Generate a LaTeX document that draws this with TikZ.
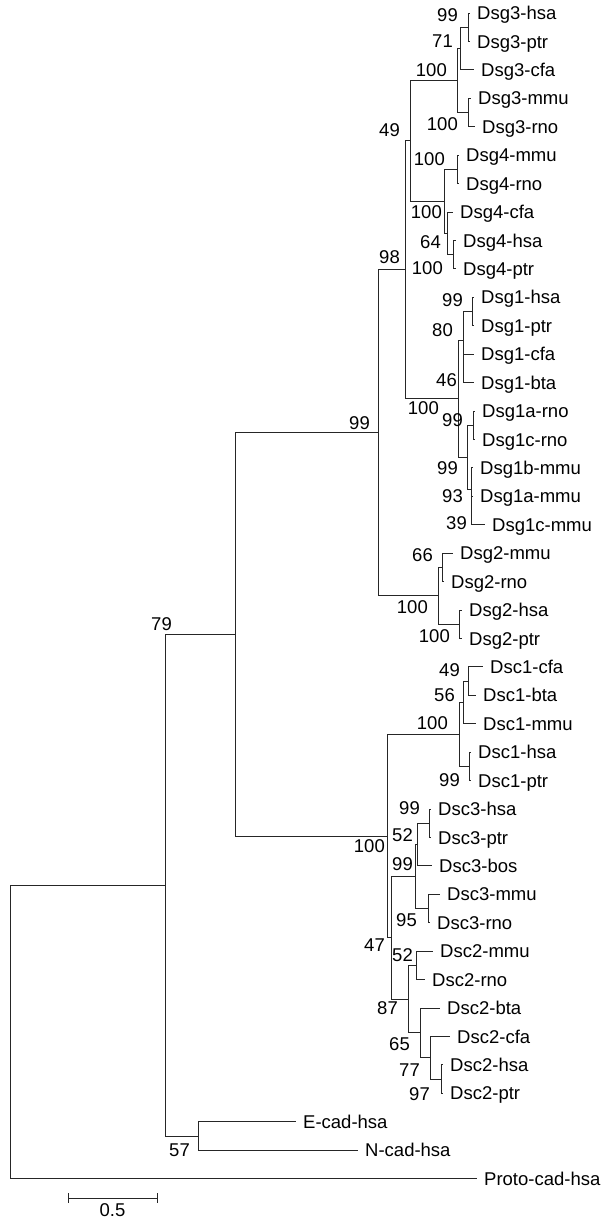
\documentclass[tikz,border=0pt]{standalone}
\usepackage{fontspec}
\setmainfont{Liberation Sans}
\newcommand\lblfont{\fontsize{18.5}{20}\selectfont}
\begin{document}
\begin{tikzpicture}[x=1pt,y=-1pt,
  br/.style={line width=0.9pt, draw=black!85},
  leaf/.style={anchor=base west, inner sep=0pt, xshift=7pt, yshift=-6.6pt, font=\lblfont},
  bs/.style={anchor=base east, inner sep=0pt, yshift=-6.6pt, font=\lblfont}]
\useasboundingbox (0,0) rectangle (606,1219);
\def\C#1#2#3{\coordinate (#1) at (#2,{13+28.43*(#3)});}
\def\Lf#1#2#3#4{\coordinate (#1) at (#2,{13+28.43*(#3)}); \node[leaf] (#1t) at (#1) {#4};}
% internal nodes
\C{r}{10}{35.84}
\C{n165}{165}{30.68}
\C{n235}{235}{21.858}
\C{ncad}{198}{39.5}
\C{ndsg}{378}{14.766}
\C{ndsc}{387}{28.95}
\C{n98}{405}{9.031}
\C{ndsgII}{438}{20.5}
\C{n49}{410}{4.5}
\C{ndsgI}{458}{13.5625}
\C{ndsgIII}{457}{2.375}
\C{ndsgIV}{444}{6.625}
\C{gIIIhp}{468}{0.5}
\C{gIIIsf}{460}{1.25}
\C{gIIImr}{468}{3.5}
\C{gIVmr}{457}{5.5}
\C{gIVc}{447}{7.75}
\C{gIVhp}{453}{8.5}
\C{gIei}{463}{11.5}
\C{gIhp}{472}{10.5}
\C{gIfs}{463}{12.5}
\C{gIrod}{467}{15.625}
\C{gIrno}{473}{14.5}
\C{gImmu}{471}{16.75}
\C{gIac}{471}{17.5}
\C{gIImr}{442}{19.5}
\C{gIIhp}{459}{21.5}
\C{ndscI}{459}{25.375}
\C{cIfs}{463}{24.25}
\C{cIfn}{468}{23.5}
\C{cIhp}{469}{26.5}
\C{n47}{391}{32.53125}
\C{ndscIII}{415}{30.375}
\C{cIIIft}{417}{29.25}
\C{cIIIhp}{429}{28.5}
\C{cIIImr}{428}{31.5}
\C{ndscII}{408}{34.6875}
\C{cIImr}{416}{33.5}
\C{cIIsf}{420}{35.875}
\C{cIIss}{430}{36.75}
\C{cIIhp}{441}{37.5}
% leaves
\Lf{La}{470}{0}{Dsg3-hsa}
\Lf{Lb}{470}{1}{Dsg3-ptr}
\Lf{Lc}{474}{2}{Dsg3-cfa}
\Lf{Ld}{471}{3}{Dsg3-mmu}
\Lf{Le}{475}{4}{Dsg3-rno}
\Lf{Lf}{459}{5}{Dsg4-mmu}
\Lf{Lg}{459}{6}{Dsg4-rno}
\Lf{Lh}{453}{7}{Dsg4-cfa}
\Lf{Li}{456}{8}{Dsg4-hsa}
\Lf{Lj}{456}{9}{Dsg4-ptr}
\Lf{Lk}{474}{10}{Dsg1-hsa}
\Lf{Ll}{474}{11}{Dsg1-ptr}
\Lf{Lm}{474}{12}{Dsg1-cfa}
\Lf{Ln}{474}{13}{Dsg1-bta}
\Lf{Lo}{475}{14}{Dsg1a-rno}
\Lf{Lp}{475}{15}{Dsg1c-rno}
\Lf{Lq}{473}{16}{Dsg1b-mmu}
\Lf{Lr}{473}{17}{Dsg1a-mmu}
\Lf{Ls}{485}{18}{Dsg1c-mmu}
\Lf{Lt}{453}{19}{Dsg2-mmu}
\Lf{Lu}{444}{20}{Dsg2-rno}
\Lf{Lv}{462}{21}{Dsg2-hsa}
\Lf{Lw}{462}{22}{Dsg2-ptr}
\Lf{Lx}{483}{23}{Dsc1-cfa}
\Lf{Ly}{476}{24}{Dsc1-bta}
\Lf{Lz}{476}{25}{Dsc1-mmu}
\Lf{Maa}{471}{26}{Dsc1-hsa}
\Lf{Mab}{471}{27}{Dsc1-ptr}
\Lf{Mac}{431}{28}{Dsc3-hsa}
\Lf{Mad}{431}{29}{Dsc3-ptr}
\Lf{Mae}{432}{30}{Dsc3-bos}
\Lf{Maf}{440}{31}{Dsc3-mmu}
\Lf{Mag}{430}{32}{Dsc3-rno}
\Lf{Mah}{433}{33}{Dsc2-mmu}
\Lf{Mai}{425}{34}{Dsc2-rno}
\Lf{Maj}{440}{35}{Dsc2-bta}
\Lf{Mak}{450}{36}{Dsc2-cfa}
\Lf{Mal}{443}{37}{Dsc2-hsa}
\Lf{Mam}{443}{38}{Dsc2-ptr}
\Lf{Man}{296}{39}{E-cad-hsa}
\Lf{Mao}{358}{40}{N-cad-hsa}
\Lf{Map}{477}{41}{Proto-cad-hsa}
% branches
\foreach \a/\b in {r/n165, r/Map, n165/n235, n165/ncad, ncad/Man, ncad/Mao,
  n235/ndsg, n235/ndsc, ndsg/n98, ndsg/ndsgII, n98/n49, n98/ndsgI,
  n49/ndsgIII, n49/ndsgIV, ndsgIII/gIIIsf, ndsgIII/gIIImr, gIIIsf/gIIIhp, gIIIsf/Lc,
  gIIIhp/La, gIIIhp/Lb, gIIImr/Ld, gIIImr/Le,
  ndsgIV/gIVmr, ndsgIV/gIVc, gIVmr/Lf, gIVmr/Lg, gIVc/Lh, gIVc/gIVhp, gIVhp/Li, gIVhp/Lj,
  ndsgI/gIei, ndsgI/gIrod, gIei/gIhp, gIei/gIfs, gIhp/Lk, gIhp/Ll, gIfs/Lm, gIfs/Ln,
  gIrod/gIrno, gIrod/gImmu, gIrno/Lo, gIrno/Lp, gImmu/Lq, gImmu/gIac, gIac/Lr, gIac/Ls,
  ndsgII/gIImr, ndsgII/gIIhp, gIImr/Lt, gIImr/Lu, gIIhp/Lv, gIIhp/Lw,
  ndsc/ndscI, ndsc/n47, ndscI/cIfs, ndscI/cIhp, cIfs/cIfn, cIfs/Lz, cIfn/Lx, cIfn/Ly,
  cIhp/Maa, cIhp/Mab, n47/ndscIII, n47/ndscII, ndscIII/cIIIft, ndscIII/cIIImr,
  cIIIft/cIIIhp, cIIIft/Mae, cIIIhp/Mac, cIIIhp/Mad, cIIImr/Maf, cIIImr/Mag,
  ndscII/cIImr, ndscII/cIIsf, cIImr/Mah, cIImr/Mai, cIIsf/Maj, cIIsf/cIIss,
  cIIss/Mak, cIIss/cIIhp, cIIhp/Mal, cIIhp/Mam}
  \draw[br] (\a) |- (\b);
% bootstrap values
\node[bs] (b01) at (458,15) {99};
\node[bs] (b02) at (453,41) {71};
\node[bs] (b03) at (447,70) {100};
\node[bs] (b04) at (458,124) {100};
\node[bs] (b05) at (400,130) {49};
\node[bs] (b06) at (445,159) {100};
\node[bs] (b07) at (442,212) {100};
\node[bs] (b08) at (441,242) {64};
\node[bs] (b09) at (443,268) {100};
\node[bs] (b10) at (400,257) {98};
\node[bs] (b11) at (463,300) {99};
\node[bs] (b12) at (453,330) {80};
\node[bs] (b13) at (457,380) {46};
\node[bs] (b14) at (439,408) {100};
\node[bs] (b15) at (463,420) {99};
\node[bs] (b16) at (458,468) {99};
\node[bs] (b17) at (463,496) {93};
\node[bs] (b18) at (467,523) {39};
\node[bs] (b19) at (433,555) {66};
\node[bs] (b20) at (428,607) {100};
\node[bs] (b21) at (450,636) {100};
\node[bs] (b22) at (370,423) {99};
\node[bs] (b23) at (172,624) {79};
\node[bs] (b24) at (460,670) {49};
\node[bs] (b25) at (455,695) {56};
\node[bs] (b26) at (448,723) {100};
\node[bs] (b27) at (460,780) {99};
\node[bs] (b28) at (420,808) {99};
\node[bs] (b29) at (413,835) {52};
\node[bs] (b30) at (413,864) {99};
\node[bs] (b31) at (417,920) {95};
\node[bs] (b32) at (385,846) {100};
\node[bs] (b33) at (385,945) {47};
\node[bs] (b34) at (413,955) {52};
\node[bs] (b35) at (398,1008) {87};
\node[bs] (b36) at (410,1044) {65};
\node[bs] (b37) at (420,1070) {77};
\node[bs] (b38) at (430,1094) {97};
\node[bs] (b39) at (190,1150) {57};
% scale bar
\coordinate (sbl) at (68,1198);
\coordinate (sbr) at (157,1198);
\draw[br] (sbl) -- (sbr);
\draw[br] ([yshift=5pt]sbl) -- ([yshift=-5pt]sbl);
\draw[br] ([yshift=5pt]sbr) -- ([yshift=-5pt]sbr);
\node[anchor=base, inner sep=0pt, font=\lblfont] (sbt) at (112.5,1216) {0.5};
\end{tikzpicture}
\end{document}
